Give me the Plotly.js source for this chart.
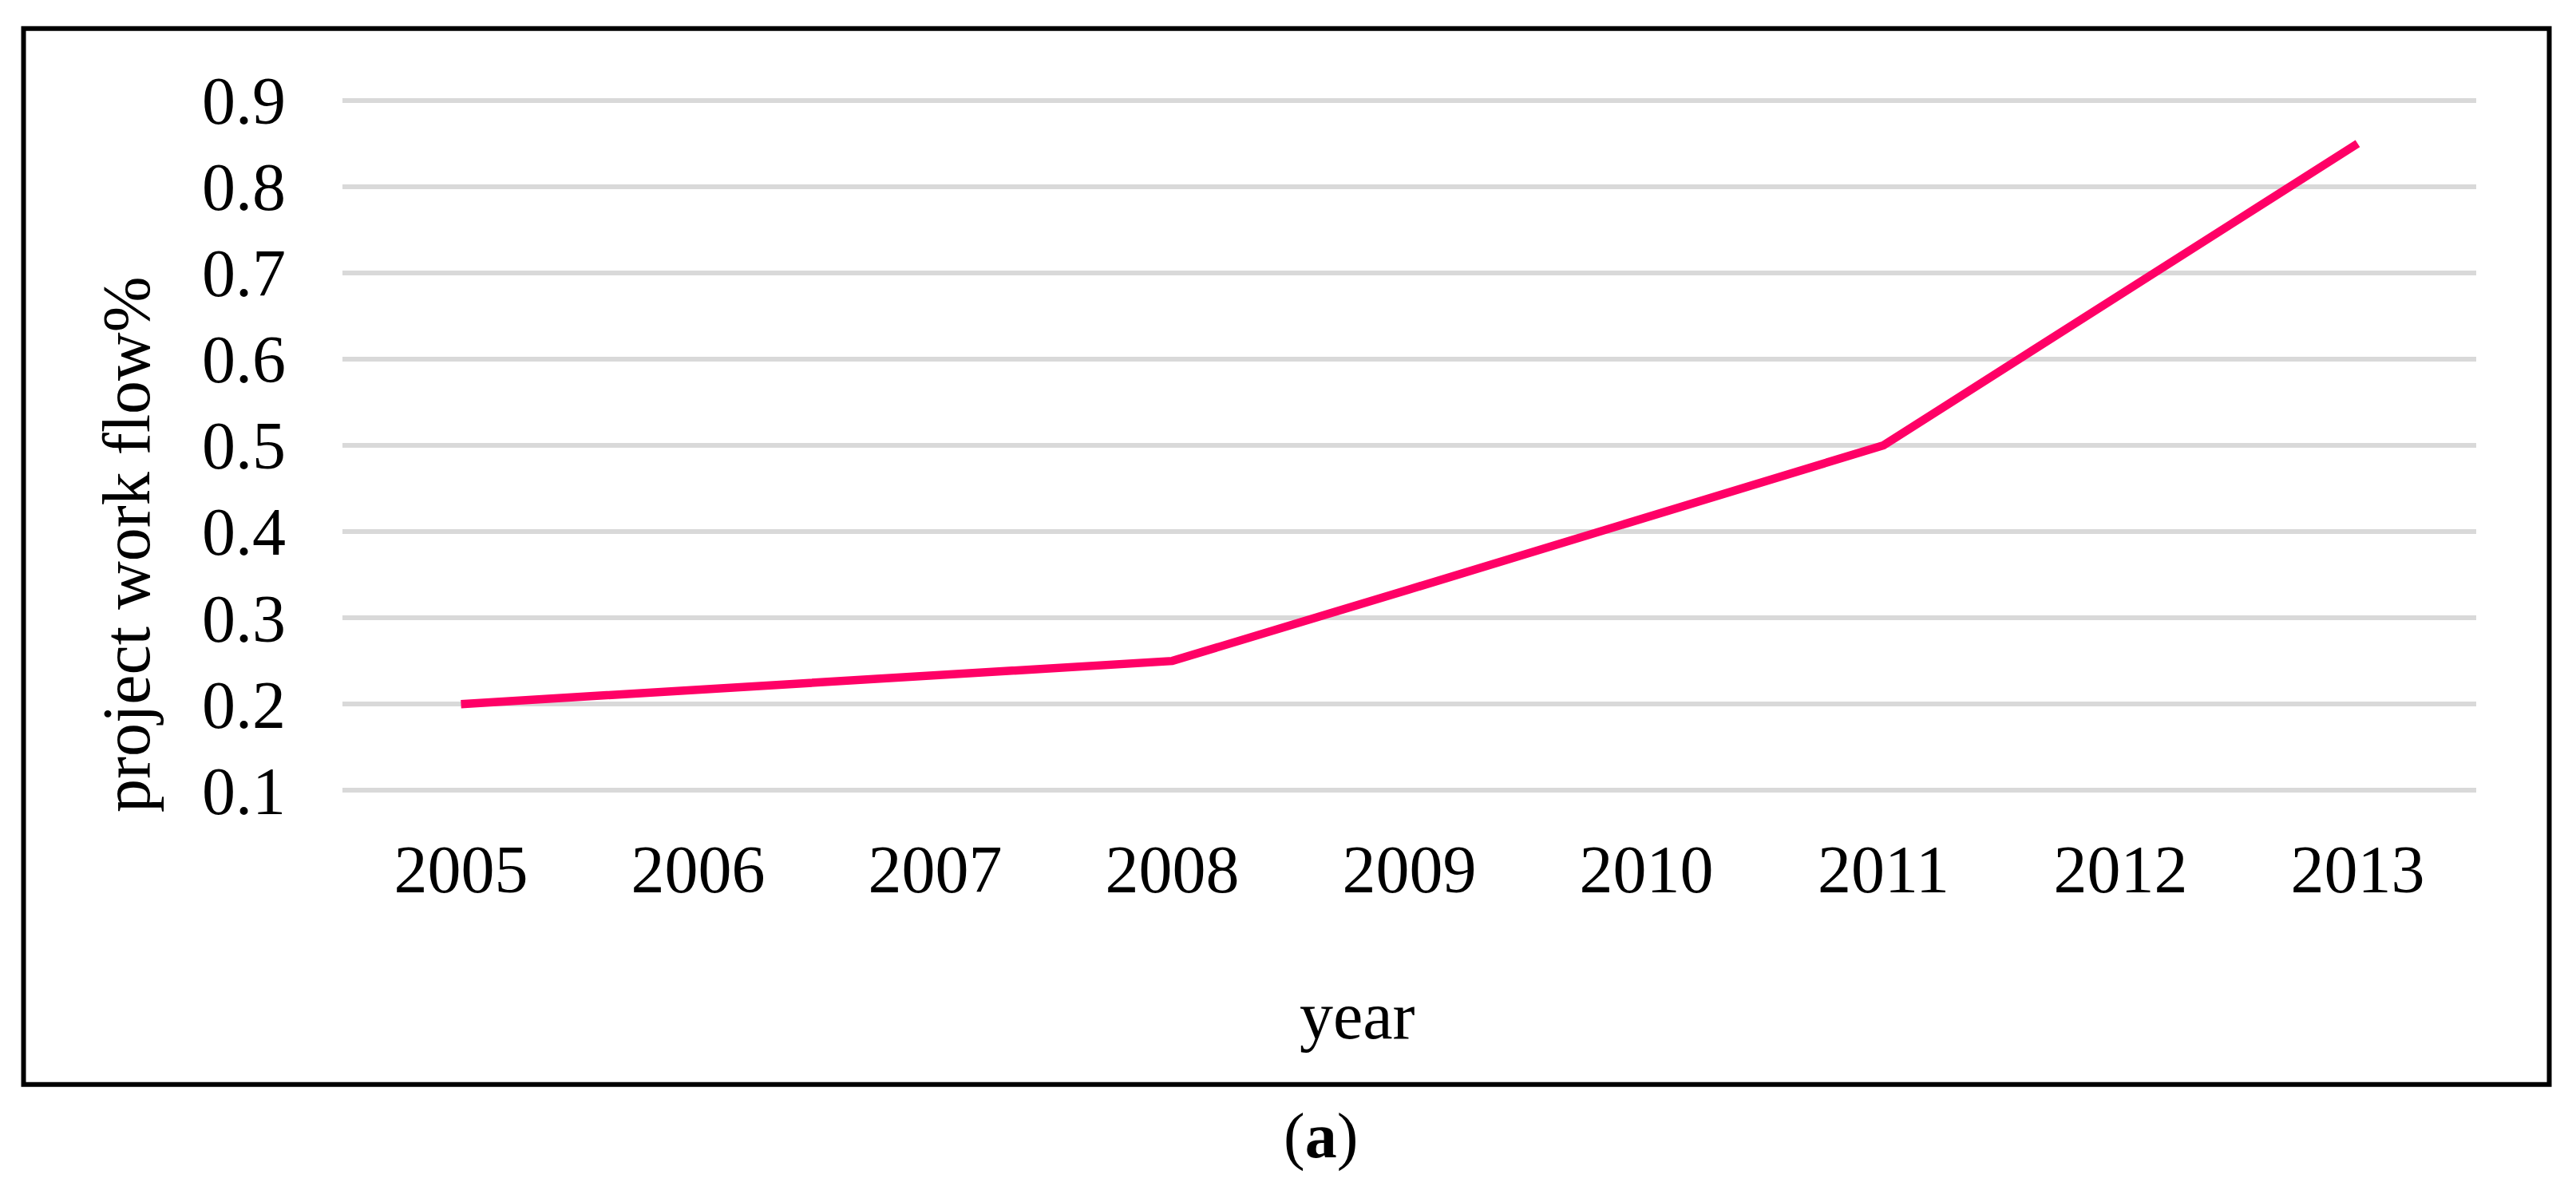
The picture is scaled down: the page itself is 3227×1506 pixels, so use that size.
<!DOCTYPE html>
<html>
<head>
<meta charset="utf-8">
<script src="https://cdn.plot.ly/plotly-3.0.1.min.js"></script>
<style>
  html, body { margin: 0; padding: 0; background: #ffffff; }
  #chart { width: 3227px; height: 1506px; }
</style>
</head>
<body>
<div id="chart"></div>
<script>
// ---- data ----
const years = ["2005", "2006", "2007", "2008", "2009", "2010", "2011", "2012", "2013"];
const workFlow = [0.20, 0.217, 0.233, 0.25, 0.333, 0.417, 0.50, 0.675, 0.85];
const yTickVals = [0.1, 0.2, 0.3, 0.4, 0.5, 0.6, 0.7, 0.8, 0.9];
const yTickText = ["0.1", "0.2", "0.3", "0.4", "0.5", "0.6", "0.7", "0.8", "0.9"];

// ---- layout geometry (pixels) ----
const W = 3227, H = 1506;
const L = 429, R = 125, T = 115.2, B = 505.2;
const PW = W - L - R, PH = H - T - B;
function px2x(p) { return (p - L) / PW; }
function px2y(p) { return (H - B - p) / PH; }

const FONT = "Liberation Serif, Times New Roman, serif";

const trace = {
  type: "scatter",
  mode: "lines",
  x: years,
  y: workFlow,
  line: { color: "#FF0066", width: 10.5 },
  hoverinfo: "x+y",
  showlegend: false
};

const layout = {
  width: W,
  height: H,
  margin: { l: L, r: R, t: T, b: B, pad: 0 },
  paper_bgcolor: "#ffffff",
  plot_bgcolor: "#ffffff",
  font: { family: FONT, size: 84, color: "#000000" },
  showlegend: false,
  xaxis: {
    type: "category",
    range: [-0.5, 8.5],
    showgrid: false,
    showline: false,
    zeroline: false,
    ticks: "",
    ticklabelstandoff: 32,
    tickfont: { family: FONT, size: 84, color: "#000000" }
  },
  yaxis: {
    range: [0.09, 0.91],
    tickvals: yTickVals,
    ticktext: yTickText,
    showgrid: true,
    gridcolor: "#D9D9D9",
    gridwidth: 6,
    showline: false,
    zeroline: false,
    ticks: "",
    ticklabelstandoff: 70,
    tickfont: { family: FONT, size: 84, color: "#000000" }
  },
  shapes: [
    {
      type: "rect",
      xref: "paper", yref: "paper",
      x0: px2x(29.5), x1: px2x(3193.5),
      y0: px2y(1358.5), y1: px2y(36),
      line: { color: "#000000", width: 6 },
      fillcolor: "rgba(0,0,0,0)",
      layer: "below"
    }
  ],
  annotations: [
    {
      text: "project work flow%",
      xref: "paper", yref: "paper",
      x: px2x(158), y: px2y(682),
      xanchor: "center", yanchor: "middle",
      textangle: -90,
      showarrow: false,
      font: { family: FONT, size: 84, color: "#000000" }
    },
    {
      text: "year",
      xref: "paper", yref: "paper",
      x: px2x(1700), y: px2y(1272),
      xanchor: "center", yanchor: "middle",
      showarrow: false,
      font: { family: FONT, size: 84, color: "#000000" }
    },
    {
      text: "(<b>a</b>)",
      xref: "paper", yref: "paper",
      x: px2x(1654), y: px2y(1423),
      xanchor: "center", yanchor: "middle",
      showarrow: false,
      font: { family: FONT, size: 80, color: "#000000" }
    }
  ]
};

Plotly.newPlot("chart", [trace], layout, { displayModeBar: false, staticPlot: true });
</script>
</body>
</html>
